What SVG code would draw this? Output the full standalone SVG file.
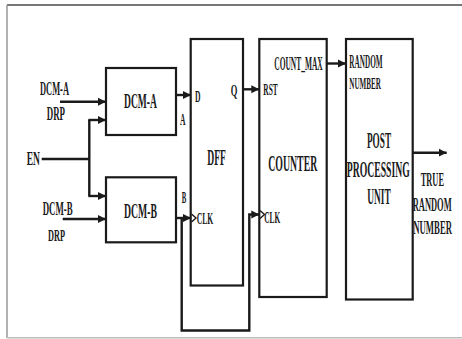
<svg xmlns="http://www.w3.org/2000/svg" width="462" height="339" viewBox="0 0 462 339">
<style>
.box{fill:#fff;stroke:#1a1a1a;stroke-width:2.2}
.w{fill:none;stroke:#1a1a1a;stroke-width:2.4}
.ar{marker-end:url(#ah)}
.ck{fill:none;stroke:#1a1a1a;stroke-width:1.4}
text{font-family:"Liberation Serif","Times New Roman",serif;font-weight:bold;fill:#1a1a1a}
</style>
<defs>
<marker id="ah" markerUnits="userSpaceOnUse" markerWidth="9" markerHeight="9" refX="8" refY="4.5" orient="auto">
<path d="M0,0.5 L8,4.5 L0,8.5 z" fill="#1a1a1a"/>
</marker>
</defs>
<rect width="462" height="339" fill="#fff"/>
<g id="frame">
<path d="M7,5 H462" stroke="#777" stroke-width="2" fill="none"/>
<path d="M7,5 V338" stroke="#999" stroke-width="1.5" fill="none"/>
<path d="M7,337.7 H462" stroke="#bbb" stroke-width="1.5" fill="none"/>
</g>
<g id="connectors">
<path class="w ar" d="M60,101.7 H106"/>
<path class="w" d="M41.7,159 H89.3 M89.3,120 V196"/>
<path class="w ar" d="M88.3,120 H106"/>
<path class="w ar" d="M88.3,196 H106"/>
<path class="w ar" d="M62.7,219 H106"/>
<path class="w ar" d="M176,95 H191"/>
<path class="w ar" d="M243,89.3 H259.3"/>
<path class="w ar" d="M327,63.5 H346"/>
<path class="w ar" d="M413,152.7 H446.7"/>
<path class="w ar" d="M176,218 H191"/>
<path class="w ar" d="M181.7,218 V330.5 H249.3 V214.5 H259.3"/>
</g>
<g id="dcm-a">
<rect class="box" x="106" y="68" width="70" height="67"/>
<text transform="translate(124,108) scale(0.479,1)" font-size="20">DCM-A</text>
<text transform="translate(180,125) scale(0.448,1)" font-size="17">A</text>
</g>
<g id="dcm-b">
<rect class="box" x="106" y="177.3" width="70" height="65"/>
<text transform="translate(124,218) scale(0.464,1)" font-size="21">DCM-B</text>
<text transform="translate(181.7,203) scale(0.397,1)" font-size="17">B</text>
</g>
<g id="inputs">
<text transform="translate(40,95) scale(0.443,1)" font-size="19">DCM-A</text>
<text transform="translate(46.7,120) scale(0.469,1)" font-size="19">DRP</text>
<text transform="translate(26.7,165) scale(0.504,1)" font-size="19">EN</text>
<text transform="translate(42.7,215) scale(0.492,1)" font-size="18">DCM-B</text>
<text transform="translate(48,241) scale(0.487,1)" font-size="17">DRP</text>
</g>
<g id="dff">
<rect class="box" x="190.7" y="39" width="52.3" height="246.5"/>
<text transform="translate(207.3,165) scale(0.401,1)" font-size="24">DFF</text>
<text transform="translate(195,101.5) scale(0.448,1)" font-size="17">D</text>
<text transform="translate(230.7,95.5) scale(0.5,1)" font-size="17">Q</text>
<polyline class="ck" points="191.5,214 196,218 191.5,222"/>
<text transform="translate(196.7,224) scale(0.479,1)" font-size="16">CLK</text>
</g>
<g id="counter">
<rect class="box" x="259.3" y="39" width="67.4" height="258"/>
<text transform="translate(268.3,170.5) scale(0.408,1)" font-size="24">COUNTER</text>
<text transform="translate(263.3,95) scale(0.435,1)" font-size="17">RST</text>
<text transform="translate(274.3,70) scale(0.392,1)" font-size="19">COUNT_MAX</text>
<polyline class="ck" points="260,210.5 264.5,214.5 260,218.5"/>
<text transform="translate(264.3,223) scale(0.461,1)" font-size="16">CLK</text>
</g>
<g id="post-processing">
<rect class="box" x="346" y="39" width="66.7" height="260.5"/>
<text transform="translate(349.3,68) scale(0.402,1)" font-size="18">RANDOM</text>
<text transform="translate(349.3,89) scale(0.42,1)" font-size="17">NUMBER</text>
<text transform="translate(367,148) scale(0.4,1)" font-size="23">POST</text>
<text transform="translate(346.7,176.5) scale(0.423,1)" font-size="23">PROCESSING</text>
<text transform="translate(367.3,204) scale(0.407,1)" font-size="23">UNIT</text>
</g>
<g id="output">
<text transform="translate(420.7,186) scale(0.466,1)" font-size="18">TRUE</text>
<text transform="translate(412.7,210.5) scale(0.47,1)" font-size="18">RANDOM</text>
<text transform="translate(413.3,234) scale(0.484,1)" font-size="18">NUMBER</text>
</g>
</svg>
